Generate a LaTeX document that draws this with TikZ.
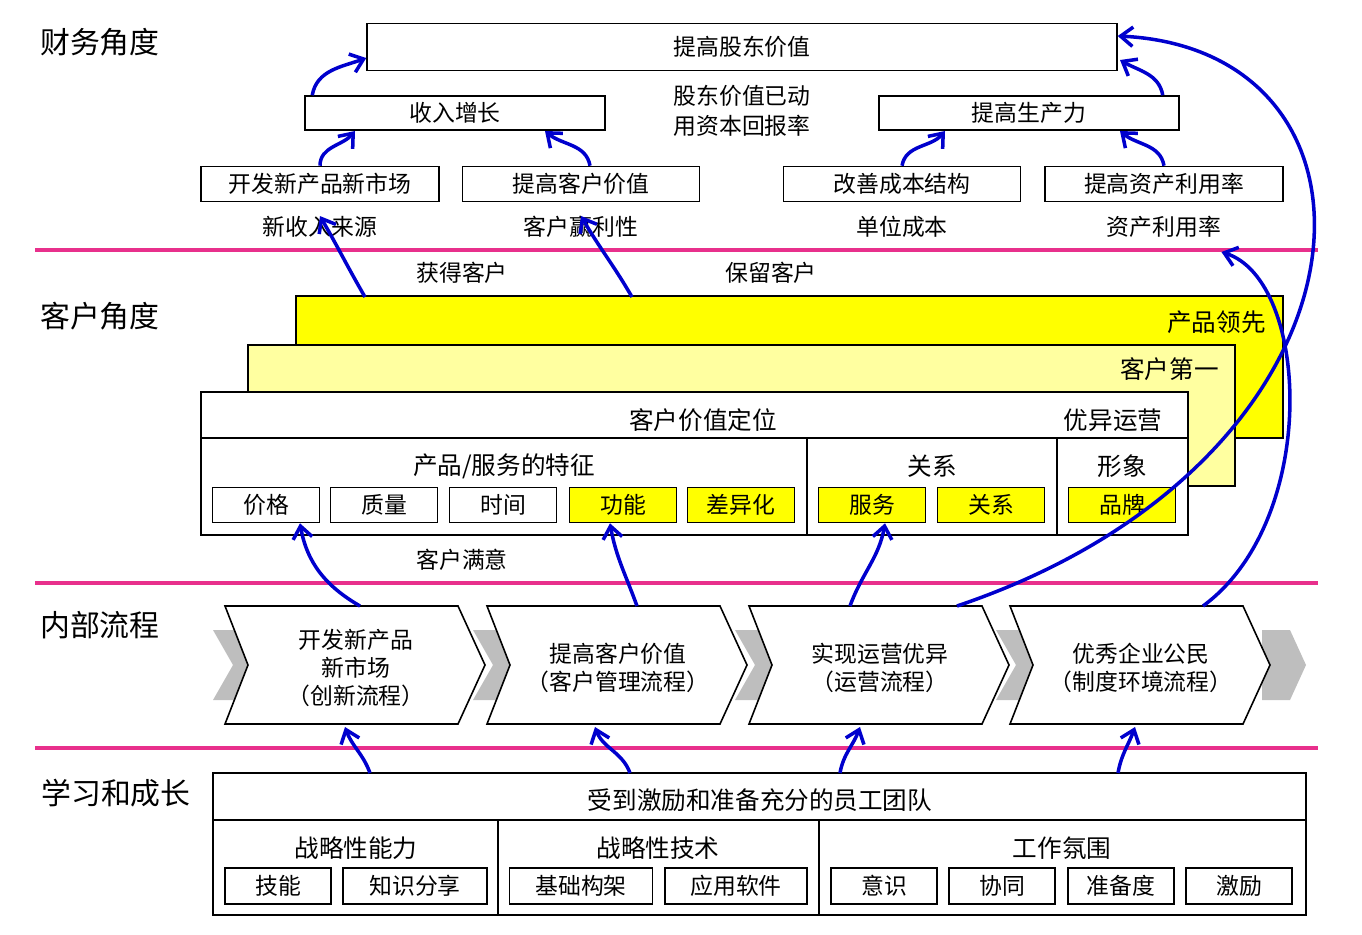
\documentclass[tikz,border=0pt]{standalone}
\usepackage{fontspec}
\setmainfont{Noto Sans CJK SC}
\usetikzlibrary{arrows.meta,positioning}
\definecolor{linkblue}{RGB}{0,0,205}
\definecolor{layerpink}{RGB}{232,48,140}
\definecolor{hiyellow}{RGB}{255,255,0}
\definecolor{paleyellow}{RGB}{255,255,160}
\definecolor{bandgray}{RGB}{190,190,190}
\tikzset{
  box/.style={draw,line width=0.9pt,inner sep=0pt,font=\fontsize{13}{15}\selectfont},
  txt/.style={inner sep=0pt,font=\fontsize{13}{15}\selectfont,align=center},
  layer/.style={inner sep=0pt,font=\fontsize{17}{20}\selectfont},
  sep/.style={layerpink,line width=2pt},
  flow/.style={linkblue,line width=2pt,-{Straight Barb[length=7pt,width=11pt]}},
}
\begin{document}
\begin{tikzpicture}[x=0.02cm,y=-0.02cm]
  \useasboundingbox (0,0) rectangle (1362,934);
  % layer titles
  \node[layer] (fin) at (100,42) {财务角度};
  \node[layer] (cus) at (100,316) {客户角度};
  \node[layer] (int) at (100,625) {内部流程};
  \node[layer] (lrn) at (116,793) {学习和成长};
  % separators
  \draw[sep] (35,250) -- (1318,250);
  \draw[sep] (35,583) -- (1318,583);
  \draw[sep] (35,748) -- (1318,748);

  % financial
  \node[box,minimum width=15cm,minimum height=0.94cm] (value) at (742,47) {提高股东价值};
  \node[box,minimum width=6cm,minimum height=0.68cm] (rev) at (455,113) {收入增长};
  \node[box,minimum width=6cm,minimum height=0.68cm] (prod) at (1029,113) {提高生产力};
  \node[txt,font=\fontsize{13}{17}\selectfont] (roce) at (742,111) {股东价值已动\\用资本回报率};
  \node[box,minimum width=4.76cm,minimum height=0.7cm] (newmkt) at (320,184) {开发新产品新市场};
  \node[box,minimum width=4.74cm,minimum height=0.7cm] (cval) at (581,184) {提高客户价值};
  \node[box,minimum width=4.74cm,minimum height=0.7cm] (cost) at (902,184) {改善成本结构};
  \node[box,minimum width=4.76cm,minimum height=0.7cm] (asset) at (1164,184) {提高资产利用率};
  \node[txt] (src) at (320,227) {新收入来源};
  \node[txt] (prof) at (581,227) {客户赢利性};
  \node[txt] (unit) at (902,227) {单位成本};
  \node[txt] (util) at (1164,227) {资产利用率};
  \draw[flow] (rev.north west) ++(8,0) to[out=80,in=200] (value.west |- 0,58);
  \draw[flow] (newmkt.north) to[out=90,in=230] (355,131);
  \draw[flow] (cval.north) ++(9,0) to[out=100,in=-40] (545,131);
  \draw[flow] (cost.north) to[out=80,in=230] (945,131);
  \draw[flow] (asset.north) to[out=100,in=-40] (1120,131);
  \draw[flow] (prod.north east) ++(-17,0) to[out=100,in=-30] (1120,60);

  % customer
  \node[draw,line width=0.9pt,fill=hiyellow,minimum width=19.74cm,minimum height=2.84cm] (lead) at (789.5,367) {};
  \node[layer,anchor=north east,font=\fontsize{14}{16}\selectfont] (leadt) at (1266,310) {产品领先};
  \node[draw,line width=0.9pt,fill=paleyellow,minimum width=19.74cm,minimum height=2.82cm] (first) at (741.5,415.5) {};
  \node[layer,anchor=north east,font=\fontsize{14}{16}\selectfont] (firstt) at (1219,357) {客户第一};
  \node[draw,line width=0.9pt,fill=white,minimum width=19.74cm,minimum height=2.86cm] (prop) at (694.5,463.5) {};
  \draw[line width=0.9pt] (201,438) -- (1188,438);
  \draw[line width=0.9pt] (807,438) -- (807,535);
  \draw[line width=0.9pt] (1057,438) -- (1057,535);
  \node[layer,font=\fontsize{14}{16}\selectfont] (propt) at (703,420) {客户价值定位};
  \node[layer,font=\fontsize{14}{16}\selectfont] (excel) at (1113,420) {优异运营};
  \node[layer,font=\fontsize{14}{16}\selectfont] (attr) at (504,466) {产品/服务的特征};
  \node[layer,font=\fontsize{14}{16}\selectfont] (rel) at (932,466) {关系};
  \node[layer,font=\fontsize{14}{16}\selectfont] (img) at (1122,466) {形象};
  \foreach \n/\x/\t/\f in {price/266/价格/white, qual/384/质量/white, time/503/时间/white,
      func/623/功能/hiyellow, diff/741/差异化/hiyellow, serv/872/服务/hiyellow,
      relb/991/关系/hiyellow, brand/1122/品牌/hiyellow}
    \node[box,fill=\f,minimum width=2.14cm,minimum height=0.7cm] (\n) at (\x,505) {\t};
  \node[txt] (gain) at (462,273) {获得客户};
  \node[txt] (keep) at (771,273) {保留客户};
  \node[txt] (sat) at (462,560) {客户满意};
  \draw[flow] (365,297) to[out=120,in=-60] (src.north);
  \draw[flow] (632,297) to[out=120,in=-60] (prof.north);

  % internal process
  \foreach \l in {213,473,735,996}
    \fill[bandgray] (\l,630) -- (\l+40,630) -- (\l+60,665) -- (\l+40,700) -- (\l,700) -- (\l+20,665) -- cycle;
  \fill[bandgray] (1262,630) -- (1290,630) -- (1306,665) -- (1290,700) -- (1262,700) -- cycle;
  \foreach \n/\l/\t in {innov/225/{开发新产品\\新市场\\（创新流程）},
      crm/487/{提高客户价值\\（客户管理流程）},
      ops/749/{实现运营优异\\（运营流程）},
      soc/1010/{优秀企业公民\\（制度环境流程）}} {
    \draw[fill=white,line width=0.9pt] (\l,606) -- (\l+233,606) -- (\l+260,665) -- (\l+233,724) -- (\l,724) -- (\l+23,665) -- cycle;
    \node[txt,font=\fontsize{13}{16}\selectfont] (\n) at (\l+131,668) {\t};
  }
  \coordinate (innovtop) at (360,606);
  \coordinate (crmtop) at (637,606);
  \coordinate (opstop) at (850,606);
  \coordinate (soctop) at (957,606);
  \coordinate (soctop2) at (1203,606);
  \draw[flow] (innovtop) to[out=150,in=-80] (price.south -| 300,0);
  \draw[flow] (crmtop) to[out=110,in=-80] (func.south -| 610,0);
  \draw[flow] (opstop) to[out=70,in=-100] (serv.south -| 885,0);
  \draw[flow] (soctop) .. controls (1390,460) and (1410,50) .. (value.north east |- 0,36);
  \draw[flow] (soctop2) .. controls (1320,520) and (1310,280) .. (util.north east |- 0,252);

  % learning and growth
  \node[box,minimum width=21.86cm,minimum height=2.84cm] (team) at (759.5,844) {};
  \draw[line width=0.9pt] (213,820) -- (1306,820);
  \draw[line width=0.9pt] (498,820) -- (498,915);
  \draw[line width=0.9pt] (819,820) -- (819,915);
  \node[layer,font=\fontsize{14}{16}\selectfont] (teamt) at (760,800) {受到激励和准备充分的员工团队};
  \node[layer,font=\fontsize{14}{16}\selectfont] (comp) at (356,848) {战略性能力};
  \node[layer,font=\fontsize{14}{16}\selectfont] (tech) at (658,848) {战略性技术};
  \node[layer,font=\fontsize{14}{16}\selectfont] (clim) at (1062,848) {工作氛围};
  \foreach \n/\x/\w/\t in {skill/278/2.12/技能, know/415/2.88/知识分享, infra/581/2.86/基础构架,
      apps/736/2.84/应用软件, aware/884/2.12/意识, coop/1002/2.12/协同,
      ready/1121/2.12/准备度, motiv/1239/2.12/激励}
    \node[box,minimum width=\w cm,minimum height=0.72cm] (\n) at (\x,886) {\t};
  \draw[flow] (370,773) to[out=110,in=-70] (345,727);
  \draw[flow] (630,773) to[out=110,in=-70] (595,727);
  \draw[flow] (840,773) to[out=80,in=-110] (860,727);
  \draw[flow] (1118,773) to[out=80,in=-110] (1135,727);
\end{tikzpicture}
\end{document}
